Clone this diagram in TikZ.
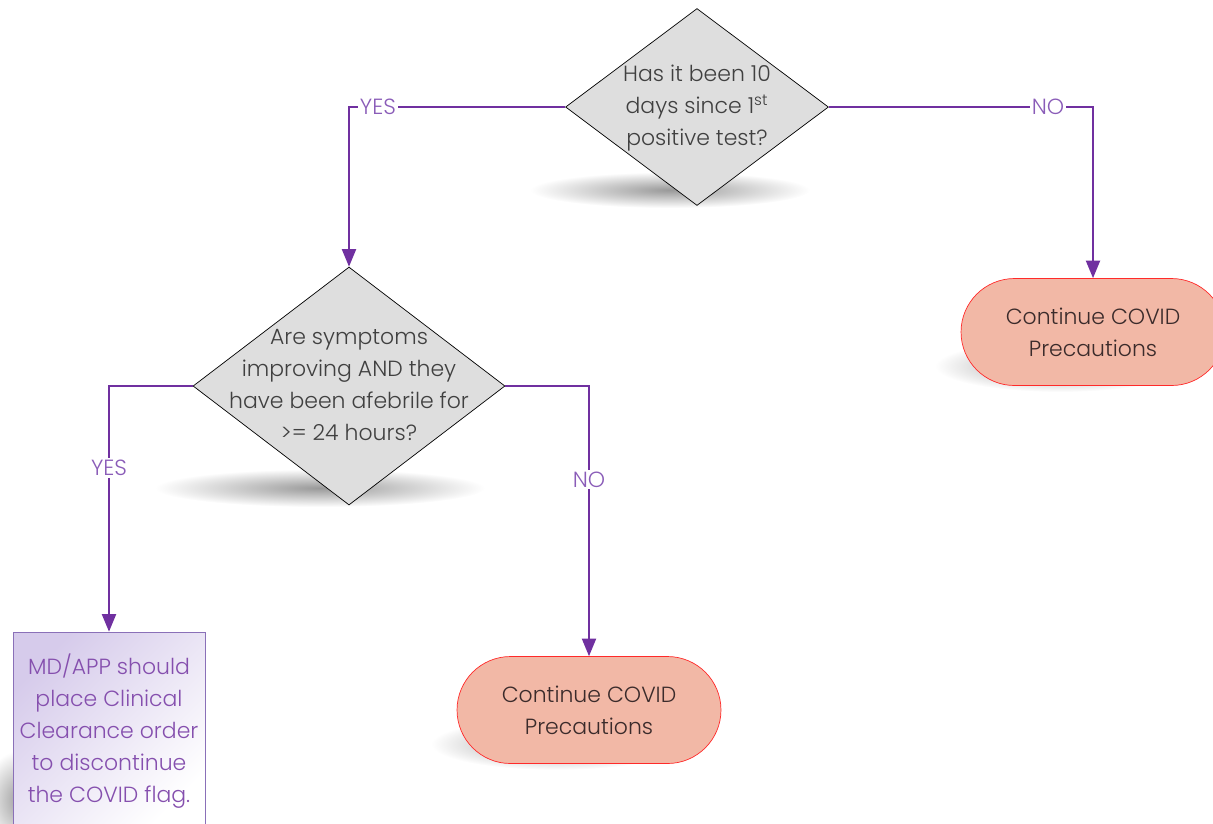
\documentclass[tikz,border=0pt]{standalone}
\usepackage{fontspec}
\setmainfont{Poppins}[UprightFont={* Light}]
\usetikzlibrary{shapes.geometric,arrows.meta}
\definecolor{flowline}{HTML}{7030A0}
\definecolor{flowtext}{HTML}{8A5CB8}
\definecolor{askfill}{HTML}{DEDEDE}
\definecolor{asktext}{HTML}{404040}
\definecolor{stopfill}{HTML}{F2B8A6}
\definecolor{stopline}{HTML}{FF2A2A}
\definecolor{stoptext}{HTML}{3B2B2B}
\definecolor{clearline}{HTML}{8A70B8}
\definecolor{cleartop}{HTML}{D6CBEB}
\newcommand{\asklines}[1]{\makebox[0pt]{\begin{tabular}{@{}c@{}}#1\end{tabular}}}
\begin{document}
\begin{tikzpicture}[x=0.02cm,y=-0.02cm,
		every node/.style={font=\fontsize{12.5}{18.2}\selectfont},
		ask/.style={diamond,draw=black,fill=askfill,text=asktext,inner sep=0pt},
		stopbox/.style={rectangle,rounded corners=1.07cm,draw=stopline,fill=stopfill,text=stoptext,
			minimum width=5.28cm,minimum height=2.14cm,align=center},
		clearbox/.style={rectangle,draw=clearline,top color=cleartop,bottom color=white,shading angle=45,
			text=flowline!85,minimum width=3.84cm,minimum height=3.96cm,align=center,inner sep=0pt},
		flow/.style={draw=flowline,line width=1.1pt,-{Triangle[width=8pt,length=10pt]}},
		answer/.style={fill=white,text=flowtext,inner sep=1pt},
		softshadow/.style={inner color=black!40,outer color=white}]
		\useasboundingbox (0,0) rectangle (1213,823);
		\clip (0,0) rectangle (1213,823);
		% soft shadows
		\shade[softshadow] (670,190) ellipse (140 and 18);
		\shade[softshadow] (320,488) ellipse (165 and 19);
		\shade[softshadow] (1060,366) ellipse (125 and 26);
		\shade[softshadow] (556,744) ellipse (125 and 26);
		\shade[softshadow] (22,800) ellipse (40 and 50);
		%
		\node[ask,minimum width=5.26cm,minimum height=3.94cm] (tenday) at (697,107)
			{\asklines{Has it been 10\\ days since 1\textsuperscript{st}\\ positive test?}};
		\node[ask,minimum width=6.24cm,minimum height=4.76cm] (afebrile) at (349,386)
			{\asklines{Are symptoms\\ improving AND they\\ have been afebrile for\\ >= 24 hours?}};
		\node[stopbox] (keepright) at (1093,332) {Continue COVID\\ Precautions};
		\node[stopbox] (keepleft) at (589,710) {Continue COVID\\ Precautions};
		\node[clearbox] (clearance) at (109,731)
			{MD/APP should\\ place Clinical\\ Clearance order\\ to discontinue\\ the COVID flag.};
		%
		\draw[flow] (tenday.west) -| node[answer,pos=.433] {YES} (afebrile.north);
		\draw[flow] (tenday.east) -| node[answer,pos=.415] {NO} (keepright.north);
		\draw[flow] (afebrile.west) -| node[answer,pos=.667] {YES} (clearance.north);
		\draw[flow] (afebrile.east) -| node[answer,pos=.673] {NO} (keepleft.north);
	\end{tikzpicture}
\end{document}
